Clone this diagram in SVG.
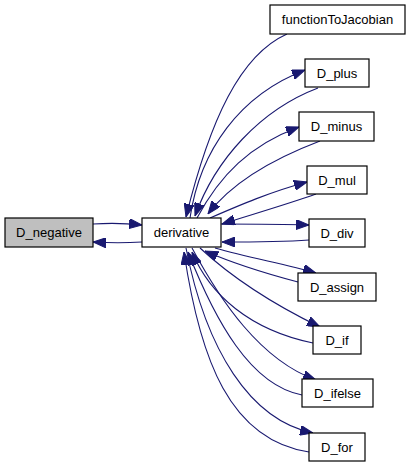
<svg xmlns="http://www.w3.org/2000/svg" width="411" height="467" viewBox="0 0 411 467">
<style>
.node rect{fill:#ffffff;stroke:#000000;stroke-width:1.2}
.node.hl rect{fill:#bfbfbf}
.node text{font-family:"Liberation Sans",Arial,sans-serif;font-size:13px;fill:#000000;text-anchor:middle}
.edges path{fill:none;stroke:#191970;stroke-width:1.1;marker-end:url(#ah)}
</style>
<defs>
<marker id="ah" markerUnits="userSpaceOnUse" viewBox="0 0 13 10" refX="13" refY="5" markerWidth="13" markerHeight="10" orient="auto">
<path d="M0,0 L13,5 L0,10 z" fill="#191970" stroke="#191970" stroke-width="1"/>
</marker>
</defs>
<rect width="411" height="467" fill="#ffffff"/>
<g class="edges">
<path d="M93,224 C108,223 124,223 142,225"/>
<path d="M142,242 C126,243 110,243 93,242"/>
<path d="M287,34 C240,55 210,120 186,217"/>
<path d="M190,218 C200,150 240,95 305,70"/>
<path d="M318,88 C260,110 215,160 195,216"/>
<path d="M197,218 C220,175 250,145 299,127"/>
<path d="M320,141 C270,160 230,185 208,214"/>
<path d="M210,218 C240,205 270,192 307,182"/>
<path d="M316,194 C285,205 250,215 222,224"/>
<path d="M221,224 C250,224 280,224 309,225"/>
<path d="M309,240 C280,242 250,242 222,242"/>
<path d="M215,248 C250,258 285,264 316,273"/>
<path d="M298,282 C260,272 230,262 205,251"/>
<path d="M200,248 C240,285 285,310 320,327"/>
<path d="M313,343 C250,330 210,295 192,252"/>
<path d="M192,248 C220,300 260,360 316,380"/>
<path d="M302,395 C250,385 215,320 188,252"/>
<path d="M186,248 C206,350 250,420 313,433"/>
<path d="M309,452 C230,440 200,360 184,252"/>
</g>
<g id="D_negative" class="node hl"><rect x="5" y="218" width="88" height="29"/><text x="49" y="237">D_negative</text></g>
<g id="derivative" class="node"><rect x="142" y="218" width="79" height="29"/><text x="181.5" y="237">derivative</text></g>
<g id="functionToJacobian" class="node"><rect x="270" y="5" width="135" height="29"/><text x="337.5" y="24">functionToJacobian</text></g>
<g id="D_plus" class="node"><rect x="305" y="59" width="64" height="28"/><text x="337" y="78">D_plus</text></g>
<g id="D_minus" class="node"><rect x="299" y="112" width="75" height="29"/><text x="336.5" y="131">D_minus</text></g>
<g id="D_mul" class="node"><rect x="307" y="166" width="60" height="28"/><text x="337" y="185">D_mul</text></g>
<g id="D_div" class="node"><rect x="309" y="219" width="56" height="28"/><text x="337" y="238">D_div</text></g>
<g id="D_assign" class="node"><rect x="298" y="273" width="78" height="28"/><text x="337" y="292">D_assign</text></g>
<g id="D_if" class="node"><rect x="313" y="326" width="48" height="28"/><text x="337" y="345">D_if</text></g>
<g id="D_ifelse" class="node"><rect x="302" y="379" width="71" height="28"/><text x="337.5" y="398">D_ifelse</text></g>
<g id="D_for" class="node"><rect x="309" y="433" width="56" height="28"/><text x="337" y="452">D_for</text></g>
</svg>
